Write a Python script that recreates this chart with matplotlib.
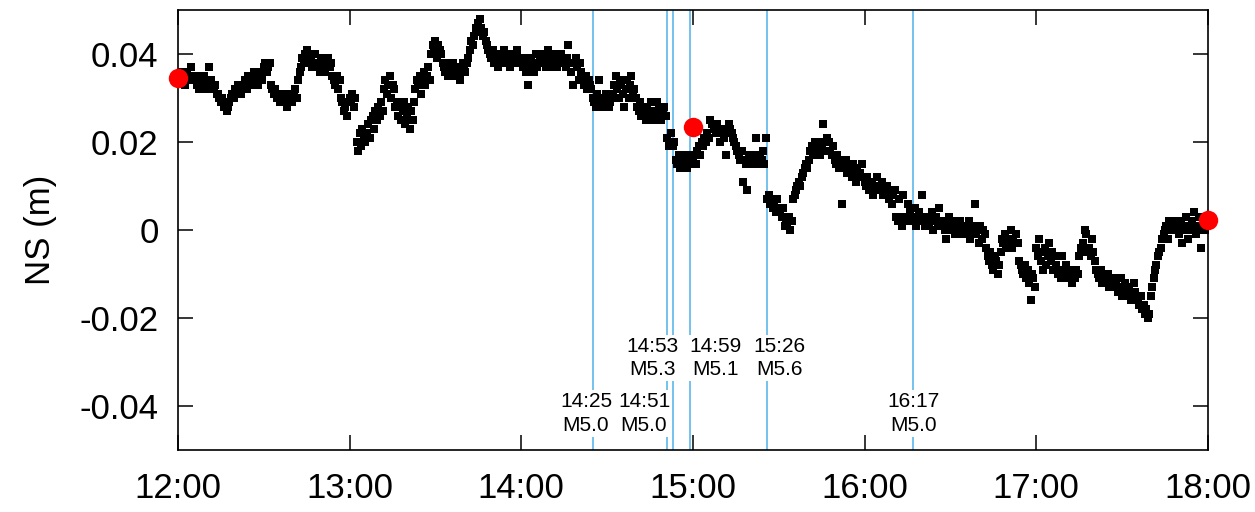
import numpy as np
import matplotlib
matplotlib.use("Agg")
import matplotlib.pyplot as plt

plt.rcParams['font.family'] = ['Liberation Sans', 'DejaVu Sans']

ns_12 = [35,34,36,34,35,33,36,35,34,37,35,34,
         34,33,35,32,34,33,35,33,32,34,
         37,34,
         33,32,33,31,31,30,29,30,28,29,27,28,
         29,30,31,30,32,31,33,32,31,33,
         33,34,32,35,34,33,35,36,34,35,33,36,35,34,
         37,38,36,37,38,
         33,32,31,32,30,31,29,30,31,29,30,28,29,31,30,29,31,32,30,
         34,36,37,39,38,40,41,39,
         38,39,37,38,40,37,38,36,39,37,38,36,37,39,37,38,
         35,34,33,35,32,34,
         30,29,27,28,26,29]
ns_13 = [30,29,31,28,30,
         20,18,22,19,23,21,20,
         22,24,21,25,26,23,27,25,28,26,29,27,
         32,34,31,33,35,30,33,32,
         28,29,26,28,25,27,29,24,26,28,23,27,25,29,
         32,34,33,35,31,34,36,33,35,37,34,
         40,42,41,43,39,42,41,40,
         38,37,36,38,35,37,36,38,37,35,36,37,34,36,38,37,36,38,39,
         41,43,42,44,46,45,47,48,46,44,45,43,42,41,
         40,39,41,38,40,39,37,38,40,39,41,38,39,40,37,39,38,40,39,41,38,39]
ns_14 = [38,37,39,36,38,33,37,39,38,36,40,37,38,39,
         39,38,40,37,39,41,38,37,39,40,38,37,39,38,40,39,
         38,37,39,42,38,36,33,38,39,37,34,38,
         36,34,33,35,32,34,33,32,
         30,29,28,31,34,29,30,28,29,31,30,28,29,30,
         31,33,35,32,30,34,33,31,28,32,34,30,33,35,31,32,
         30,28,27,29,26,28,27,25,28,26,27,29,
         26,25,27,29,28,26,25,27,28,26,
         21,19,20,22,19,20,
         16,15,17,14,16,15,17,16,14,15,17,16]
ns_15 = [16,17,15,18,19,17,20,19,21,20,22,21,
         25,24,24,23,22,24,23,20,22,23,21,17,22,24,23,22,21,20,
         19,18,17,16,18,11,16,15,9,17,16,15,17,16,21,16,15,17,16,18,15,21,
         7,8,6,7,5,6,4,7,5,4,3,5,1,2,1,3,0,2,
         7,8,9,10,11,10,12,13,14,15,14,16,
         18,19,17,20,19,18,20,17,19,24,18,20,
         21,20,18,17,19,16,15,17,14,16,6,15,14,16,13,15,
         14,12,15,13,11,14,12,13,15,12]
ns_16 = [11,10,12,9,10,11,8,10,9,12,10,9,11,8,
         9,8,10,7,9,6,8,9,
         3,2,7,3,1,8,2,3,6,2,
         4,3,2,5,1,3,4,2,8,3,1,2,
         3,1,2,4,0,2,3,1,5,2,
         1,2,0,-2,1,3,2,0,1,-1,2,0,1,2,-1,0,
         0,1,-1,2,-2,0,1,6,-1,0,-3,1,-2,0,-1,-4,
         -6,-7,-5,-8,-9,-6,-7,-10,-8,-5,
         -2,-3,-1,-4,-2,-3,0,-4,-2,-3,-1,-3,
         -7,-8,-9,-10,-8,-11,-9,-12,-16,-10,-11,-13]
ns_17 = [-4,-6,-2,-7,-5,-9,-4,-8,-6,-3,-7,-5,-9,-6,
         -8,-10,-9,-11,-6,-10,-9,-8,-11,-10,-9,-12,-10,-11,-9,-10,
         -6,-4,-5,-3,0,-1,-5,-4,-6,-2,-5,-7,
         -9,-10,-11,-9,-12,-10,-11,-12,-10,-13,-11,-12,-11,-13,
         -12,-14,-13,-11,-15,-13,-12,-14,-15,-13,-16,-14,-12,-14,
         -15,-16,-17,-15,-18,-17,-19,-18,-20,-19,
         -15,-13,-11,-9,-8,-6,-5,-4,
         -2,-1,0,1,-2,2,1,0,2,1,
         0,1,-1,2,-3,0,1,3,-2,1,0,2,4,1,-1,0,3,-4,1,2,0,1]

# red reference points
ref_hours = [12, 15, 18]
ref_ns = [0.0345, 0.0233, 0.0022]

# earthquakes
eq_times = ["14:25", "14:51", "14:53", "14:59", "15:26", "16:17"]
eq_mags = ["M5.0", "M5.0", "M5.3", "M5.1", "M5.6", "M5.0"]
eq_row = [0, 0, 1, 1, 1, 0]          # 0 = lower label row, 1 = upper
label_shift_min = [-2.4, -8.1, -7, 9, 4.4, 0]

ns = np.array(ns_12 + ns_13 + ns_14 + ns_15 + ns_16 + ns_17) / 1000.0
hours = 12 + np.arange(len(ns)) / 120.0

def to_hours(s):
    h, m = s.split(":")
    return int(h) + int(m) / 60.0

fig = plt.figure(figsize=(12.55, 5.12), dpi=100)
ax = fig.add_axes([0.1418, 0.1211, 0.8207, 0.8594])

eq_color = "#4fb2ea"
row_y = [-0.0417, -0.0291]
for t in eq_times:
    ax.axvline(to_hours(t), color=eq_color, lw=1.1, zorder=1)
for t, mag, r, dm in zip(eq_times, eq_mags, eq_row, label_shift_min):
    x = to_hours(t) + dm / 60.0
    ax.text(x, row_y[r], t + "\n" + mag, ha="center", va="center", fontsize=15,
            linespacing=1.3, zorder=2,
            bbox=dict(facecolor="white", edgecolor="none", pad=1.5))

ax.plot(hours, ns, "s", color="black", ms=5.2, mew=0, zorder=3)
ax.plot(ref_hours, ref_ns, "o", color="red", ms=14, mew=0, zorder=4, clip_on=False)

ax.set_xlim(12, 18)
ax.set_ylim(-0.05, 0.05)
ax.set_xticks([12, 13, 14, 15, 16, 17, 18])
ax.set_xticklabels(["12:00", "13:00", "14:00", "15:00", "16:00", "17:00", "18:00"])
ax.set_yticks([-0.04, -0.02, 0, 0.02, 0.04])
ax.set_yticklabels(["-0.04", "-0.02", "0", "0.02", "0.04"])
ax.tick_params(direction="in", length=11, width=1.1, top=True, right=True,
               labelsize=25)
ax.tick_params(axis="y", pad=14)
ax.tick_params(axis="x", pad=16)
ax.set_ylabel("NS (m)", fontsize=25, labelpad=16)
for sp in ax.spines.values():
    sp.set_linewidth(1.2)

fig.savefig("out.png", dpi=100)
